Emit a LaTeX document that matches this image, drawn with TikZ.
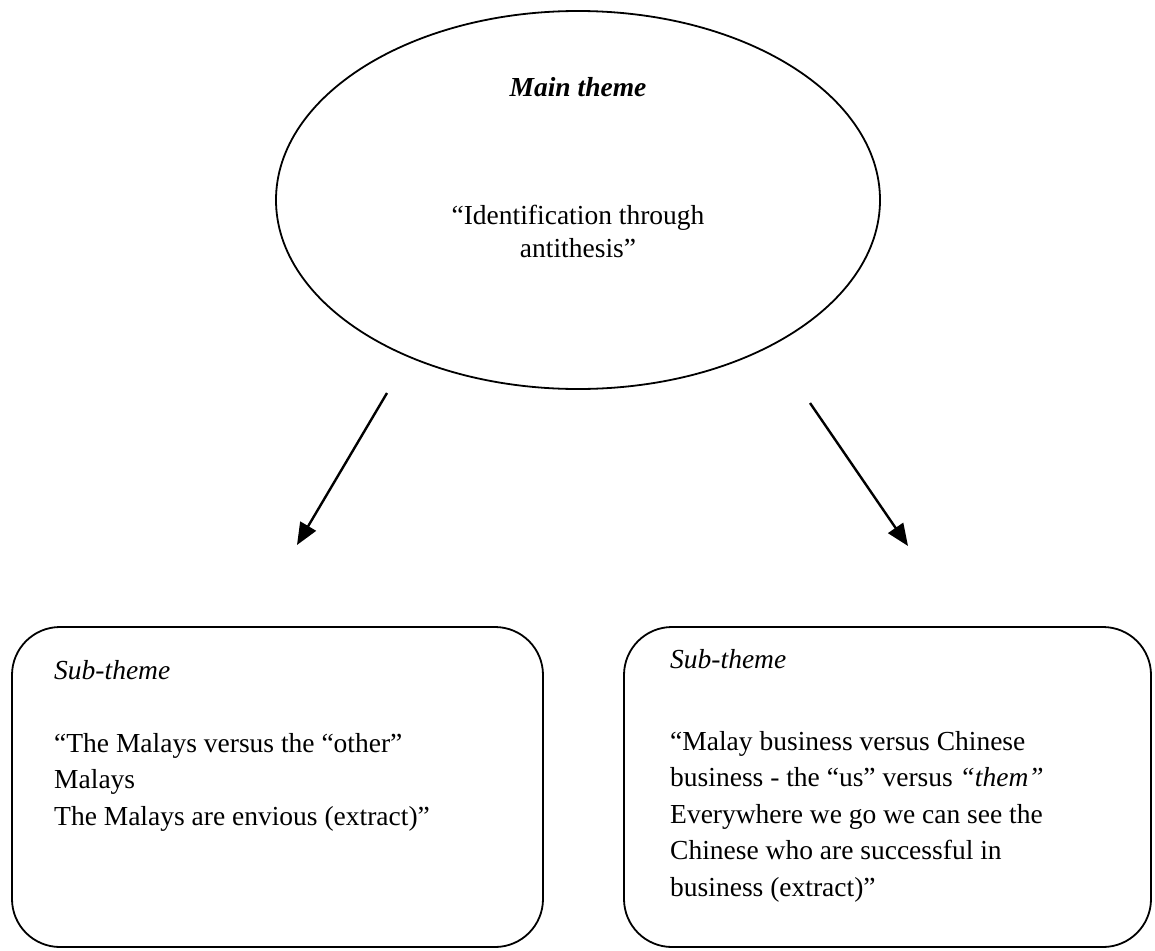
\documentclass[tikz,border=0pt]{standalone}
\usepackage{fontspec}
\setmainfont{Liberation Serif}
\usetikzlibrary{shapes.geometric,arrows.meta}
\begin{document}
\begin{tikzpicture}[x=1pt,y=-1pt,
  txt/.style={inner sep=0pt, anchor=base west, font=\fontsize{27.5}{31.6}\selectfont},
  ctxt/.style={inner sep=0pt, anchor=base, font=\fontsize{27.5}{31.6}\selectfont},
  themebox/.style={draw, line width=1.8pt, rounded corners=48pt, inner sep=0pt},
  conn/.style={line width=2.4pt, -{Triangle[length=22pt,width=18pt]}}]
\useasboundingbox (0,0) rectangle (1155,950);
% main ellipse
\node[draw, ellipse, line width=1.8pt, minimum width=604pt, minimum height=378pt, inner sep=0pt] (main) at (578,200) {};
\node[ctxt] (mt) at (578,96) {\bfseries\itshape Main theme};
\node[ctxt] (q1) at (578,224) {“Identification through};
\node[ctxt] (q2) at (578,257) {antithesis”};
% boxes
\node[themebox, minimum width=531pt, minimum height=320pt] (lb) at (277.5,787) {};
\node[themebox, minimum width=527pt, minimum height=320pt] (rb) at (887.5,787) {};
% left box text
\node[txt] (ls) at (54,679) {\itshape Sub-theme};
\node[txt] (l1) at (54,752) {“The Malays versus the “other”};
\node[txt] (l2) at (54,788.5) {Malays};
\node[txt] (l3) at (54,825) {The Malays are envious (extract)”};
% right box text
\node[txt] (rs) at (670,668) {\itshape Sub-theme};
\node[txt] (r1) at (670,750) {“Malay business versus Chinese};
\node[txt] (r2) at (670,786.5) {business - the “us” versus \textit{“them”}};
\node[txt] (r3) at (670,823) {Everywhere we go we can see the};
\node[txt] (r4) at (670,859.5) {Chinese who are successful in};
\node[txt] (r5) at (670,896) {business (extract)”};
% arrows
\coordinate (a1s) at (387,393);
\coordinate (a1e) at (297,545);
\coordinate (a2s) at (810,403);
\coordinate (a2e) at (908,546);
\draw[conn] (a1s) -- (a1e);
\draw[conn] (a2s) -- (a2e);
\end{tikzpicture}
\end{document}
